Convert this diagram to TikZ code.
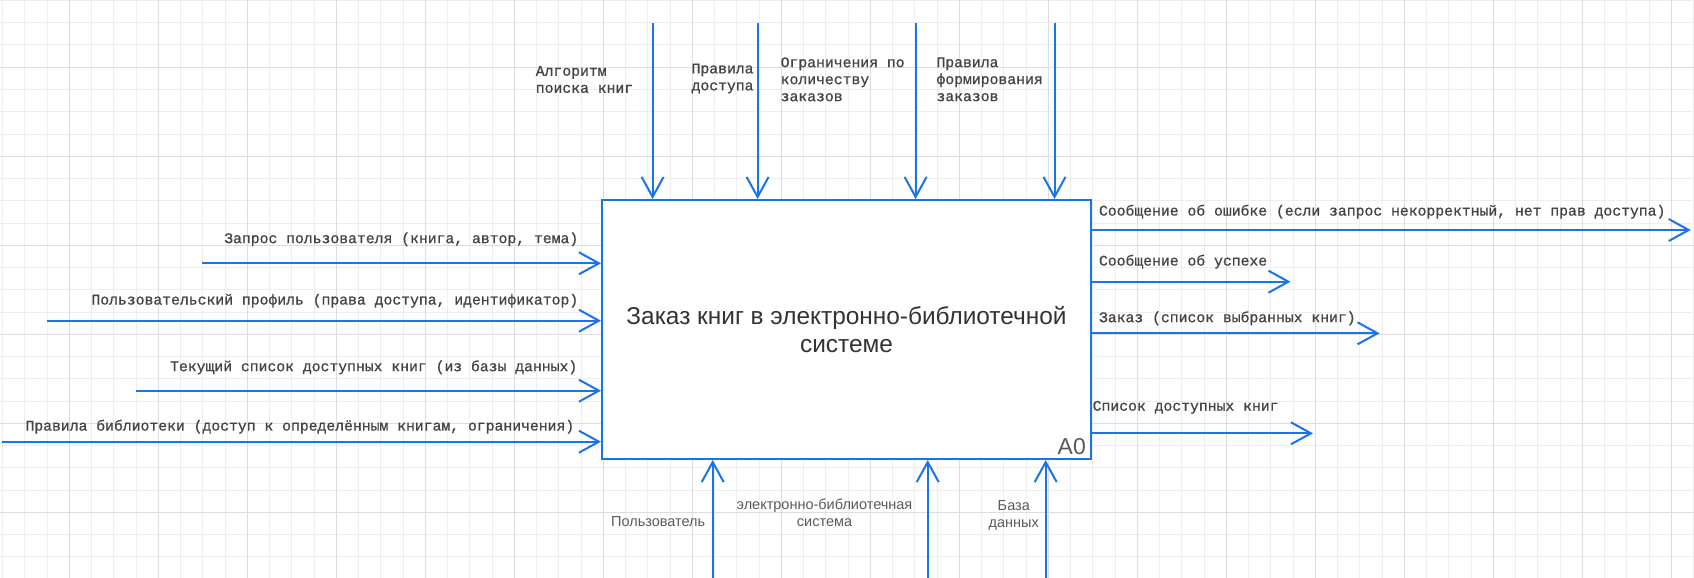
\documentclass[tikz,border=0pt]{standalone}
\usepackage{fontspec}
\setmainfont{Liberation Sans}
\newfontfamily\monof[FakeBold=0.8]{Liberation Mono}
\usetikzlibrary{arrows.meta}
\definecolor{flowblue}{HTML}{1A73E8}
\definecolor{gridminor}{HTML}{EEEEEE}
\definecolor{gridmajor}{HTML}{DDDDDD}
\definecolor{txtdark}{HTML}{333333}
\definecolor{txtmono}{HTML}{444444}
\definecolor{txtgray}{HTML}{5A5A5A}
\tikzset{
  flow/.style={draw=flowblue, line width=2pt, -{Straight Barb[length=20pt,width=22pt]}},
  monolbl/.style={inner sep=0pt, text=txtmono, font=\monof\fontsize{14.75}{17}\selectfont, align=left},
  sanslbl/.style={inner sep=0pt, text=txtgray, font=\fontsize{14.5}{17.5}\selectfont, align=center},
  funcbox/.style={draw=flowblue, line width=2pt, fill=white, rectangle, minimum width=489pt, minimum height=259pt, inner sep=0pt, text=txtdark, font=\fontsize{24.4}{28.5}\selectfont, align=center}
}
\begin{document}
\begin{tikzpicture}[x=1pt,y=-1pt]
\useasboundingbox (0,0) rectangle (1694,578);
\fill[white] (0,0) rectangle (1694,578);
% grid
\foreach \i in {0,...,76} {\draw[gridminor, line width=1pt] ({2.5+22.25*\i},0) -- ({2.5+22.25*\i},578);}
\foreach \j in {0,...,26} {\draw[gridminor, line width=1pt] (0,{0.5+22.25*\j}) -- (1694,{0.5+22.25*\j});}
\foreach \i in {0,...,19} {\draw[gridmajor, line width=1pt] ({69.5+89*\i},0) -- ({69.5+89*\i},578);}
\foreach \j in {0,...,6} {\draw[gridmajor, line width=1pt] (0,{67.3+89*\j}) -- (1694,{67.3+89*\j});}

% main box
\node[funcbox] (box) at (846.5,329.5) {Заказ книг в электронно-библиотечной\\системе};
\node[inner sep=0pt, text=txtgray, font=\fontsize{23}{23}\selectfont, anchor=east] (a0) at (1086,446.7) {A0};

% controls (top)
\coordinate (t1) at (652.6,23.5);
\coordinate (t2) at (757.6,23.5);
\coordinate (t3) at (915.6,23.5);
\coordinate (t4) at (1054.5,23.5);
\draw[flow] (t1) -- (t1 |- box.north);
\draw[flow] (t2) -- (t2 |- box.north);
\draw[flow] (t3) -- (t3 |- box.north);
\draw[flow] (t4) -- (t4 |- box.north);
\node[monolbl, anchor=west] (lt1) at (535.6,79.5) {Алгоритм\\поиска книг};
\node[monolbl, anchor=west] (lt2) at (691.4,78.5) {Правила\\доступа};
\node[monolbl, anchor=west] (lt3) at (780.5,79.3) {Ограничения по\\количеству\\заказов};
\node[monolbl, anchor=west] (lt4) at (936.3,79.3) {Правила\\формирования\\заказов};

% inputs (left)
\coordinate (i1) at (202,263.3);
\coordinate (i2) at (47,320.7);
\coordinate (i3) at (136.4,390.7);
\coordinate (i4) at (2,441.7);
\draw[flow] (i1) -- (i1 -| box.west);
\draw[flow] (i2) -- (i2 -| box.west);
\draw[flow] (i3) -- (i3 -| box.west);
\draw[flow] (i4) -- (i4 -| box.west);
\node[monolbl, anchor=east] (li1) at (578.5,239.3) {Запрос пользователя (книга, автор, тема)};
\node[monolbl, anchor=east] (li2) at (578.5,300.7) {Пользовательский профиль (права доступа, идентификатор)};
\node[monolbl, anchor=east] (li3) at (577.5,367.3) {Текущий список доступных книг (из базы данных)};
\node[monolbl, anchor=east] (li4) at (574.5,426.7) {Правила библиотеки (доступ к определённым книгам, ограничения)};

% outputs (right)
\coordinate (o1) at (1690.8,230);
\coordinate (o2) at (1290.5,281.7);
\coordinate (o3) at (1379.6,333.3);
\coordinate (o4) at (1313,433.3);
\draw[flow] (box.east |- o1) -- (o1);
\draw[flow] (box.east |- o2) -- (o2);
\draw[flow] (box.east |- o3) -- (o3);
\draw[flow] (box.east |- o4) -- (o4);
\node[monolbl, anchor=west] (lo1) at (1098.8,211.7) {Сообщение об ошибке (если запрос некорректный, нет прав доступа)};
\node[monolbl, anchor=west] (lo2) at (1098.8,261.7) {Сообщение об успехе};
\node[monolbl, anchor=west] (lo3) at (1098.8,318.3) {Заказ (список выбранных книг)};
\node[monolbl, anchor=west] (lo4) at (1092.5,407.3) {Список доступных книг};

% mechanisms (bottom)
\coordinate (m1) at (712.7,578);
\coordinate (m2) at (927.7,578);
\coordinate (m3) at (1045.7,578);
\draw[flow] (m1) -- (m1 |- box.south);
\draw[flow] (m2) -- (m2 |- box.south);
\draw[flow] (m3) -- (m3 |- box.south);
\node[sanslbl] (lm1) at (658.2,521.7) {Пользователь};
\node[sanslbl] (lm2) at (824.5,512.8) {электронно-библиотечная\\система};
\node[sanslbl] (lm3) at (1013.8,515.5) {База\\данных};
\end{tikzpicture}
\end{document}
